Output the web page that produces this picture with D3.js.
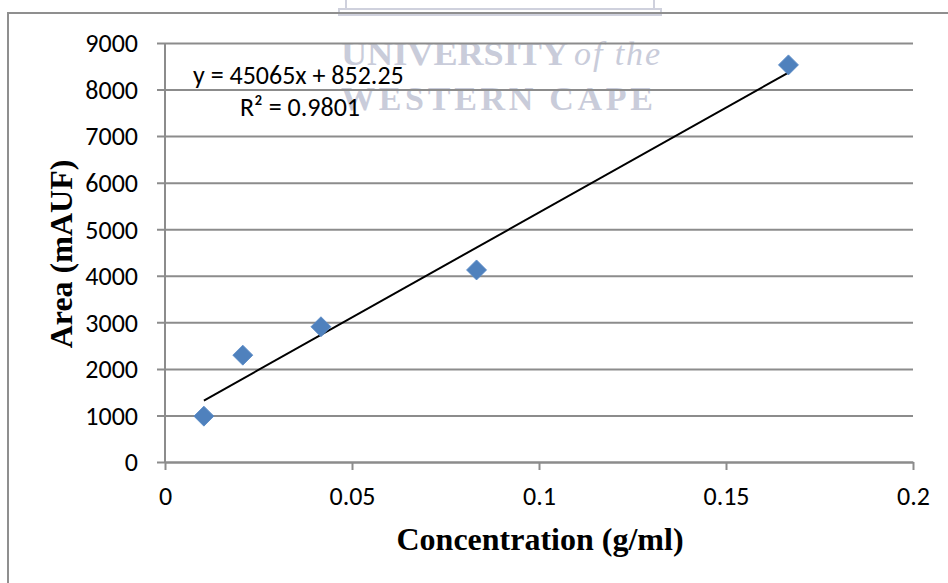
<!DOCTYPE html>
<html><head><meta charset="utf-8">
<script src="https://cdn.jsdelivr.net/npm/d3@7"></script>
<style>html,body{margin:0;padding:0;background:#fff;overflow:hidden}</style>
</head><body>
<svg id="c" width="948" height="583"></svg>
<script>
const concentration = [0.0104, 0.0208, 0.0417, 0.0833, 0.1667];
const area = [985, 2295, 2905, 4125, 8530];
const xTicks = [0, 0.05, 0.1, 0.15, 0.2];
const yTicks = [0, 1000, 2000, 3000, 4000, 5000, 6000, 7000, 8000, 9000];
const slope = 45065, intercept = 852.25;
const eqText = "y = 45065x + 852.25";
const r2Text = "R\u00b2 = 0.9801";
const xTitle = "Concentration (g/ml)";
const yTitle = "Area (mAUF)";

const svg = d3.select("#c");
const gridCol = "#8c8c8c";
const sans = "Carlito, Calibri, 'Open Sans', sans-serif";
const serif = "'Liberation Serif', 'Times New Roman', serif";

// watermark
const wm = svg.append("g").attr("fill", "#c9ccda");
wm.append("rect").attr("x", 346).attr("y", -4).attr("width", 308).attr("height", 13)
  .attr("fill", "none").attr("stroke", "#cfd1dd").attr("stroke-width", 2);
wm.append("rect").attr("x", 339).attr("y", 9).attr("width", 322).attr("height", 6)
  .attr("fill", "none").attr("stroke", "#cfd1dd").attr("stroke-width", 2);
wm.append("text").attr("x", 341).attr("y", 65).attr("font-family", serif).attr("font-weight", "bold").attr("font-size", 34)
  .attr("textLength", 227).attr("lengthAdjust", "spacingAndGlyphs").text("UNIVERSITY");
wm.append("text").attr("x", 574).attr("y", 65).attr("font-family", serif).attr("font-style", "italic")
  .attr("font-size", 34).attr("textLength", 86).attr("lengthAdjust", "spacing").text("of the");
wm.append("text").attr("x", 341).attr("y", 110).attr("font-family", serif).attr("font-weight", "bold").attr("font-size", 34)
  .attr("textLength", 312).attr("lengthAdjust", "spacing").text("WESTERN CAPE");

// chart border
svg.append("rect").attr("x", 8).attr("y", 13).attr("width", 980).attr("height", 620)
  .attr("fill", "none").attr("stroke", "#8f8f8f").attr("stroke-width", 2);

const x = d3.scaleLinear().domain([0, 0.2]).range([165, 913]);
const y = d3.scaleLinear().domain([0, 9000]).range([462, 43]);

// gridlines + y ticks
const yAx = svg.append("g").attr("transform", "translate(165,0)")
  .call(d3.axisLeft(y).tickValues(yTicks).tickSize(-748).tickSizeOuter(0).tickPadding(0).tickFormat(d3.format("d")));
yAx.select(".domain").remove();
yAx.selectAll(".tick line").attr("x1", -8).attr("stroke", gridCol).attr("stroke-width", 2);
yAx.selectAll(".tick text").attr("x", -27).attr("dy", "0.34em").attr("font-family", sans).attr("font-size", 26).attr("fill", "#000");

// x axis
const xAx = svg.append("g").attr("transform", "translate(0,462)")
  .call(d3.axisBottom(x).tickValues(xTicks).tickSize(8).tickSizeOuter(0).tickPadding(0)
    .tickFormat(d => d === 0 ? "0" : String(+d.toFixed(2))));
xAx.select(".domain").attr("stroke", gridCol).attr("stroke-width", 2);
xAx.selectAll(".tick line").attr("stroke", gridCol).attr("stroke-width", 2);
xAx.selectAll(".tick text").attr("y", 43).attr("dy", 0).attr("font-family", sans).attr("font-size", 26).attr("fill", "#000");

// y axis line
svg.append("line").attr("x1", x(0)).attr("x2", x(0)).attr("y1", y(9000)).attr("y2", y(0))
  .attr("stroke", gridCol).attr("stroke-width", 2);

// trendline
const x0 = d3.min(concentration), x1 = d3.max(concentration);
svg.append("line").attr("x1", x(x0)).attr("y1", y(slope * x0 + intercept))
  .attr("x2", x(x1)).attr("y2", y(slope * x1 + intercept))
  .attr("stroke", "#000").attr("stroke-width", 2);

// points
const sym = d3.symbol(d3.symbolSquare, 200);
svg.append("g").selectAll("path").data(concentration).join("path")
  .attr("d", sym)
  .attr("transform", (d, i) => `translate(${x(d)},${y(area[i])}) rotate(45)`)
  .attr("fill", "#4f81bd").attr("stroke", "#5a8ac6").attr("stroke-width", 0.8);

// equation
svg.append("text").attr("x", 193).attr("y", 84).attr("font-family", sans).attr("font-size", 26).text(eqText);
svg.append("text").attr("x", 240).attr("y", 116).attr("font-family", sans).attr("font-size", 26).text(r2Text);

// titles
svg.append("text").attr("x", 540).attr("y", 550).attr("text-anchor", "middle")
  .attr("font-family", serif).attr("font-weight", "bold").attr("font-size", 32).text(xTitle);
svg.append("text").attr("transform", "translate(72,254) rotate(-90)").attr("text-anchor", "middle")
  .attr("font-family", serif).attr("font-weight", "bold").attr("font-size", 32).text(yTitle);
</script>
</body></html>
